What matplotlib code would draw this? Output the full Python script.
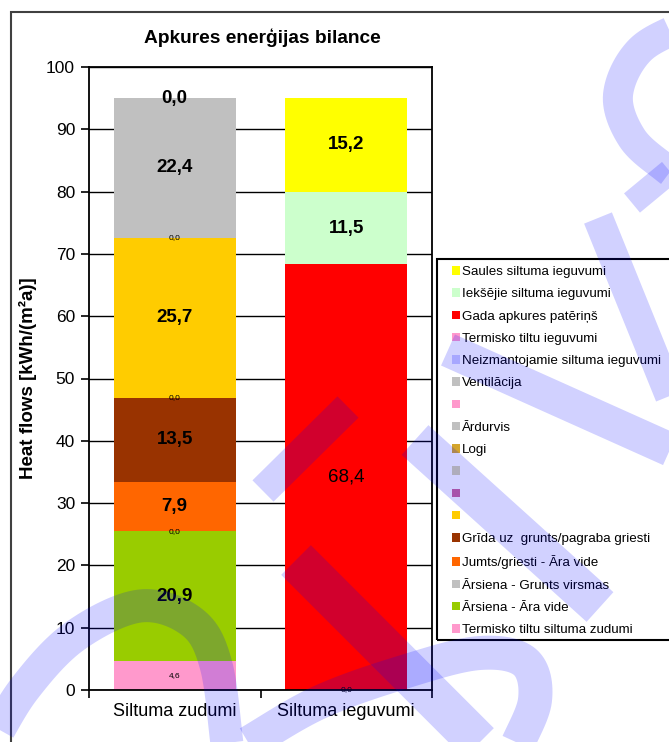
import numpy as np
import matplotlib
matplotlib.use("Agg")
import matplotlib.pyplot as plt
from matplotlib.patches import Patch, Rectangle

plt.rcParams['font.family'] = ['Liberation Sans', 'DejaVu Sans']

# ── Series, in the order they are listed in the legend (top to bottom) ──
names = [
    "Saules siltuma ieguvumi",
    "Iekšējie siltuma ieguvumi",
    "Gada apkures patēriņš",
    "Termisko tiltu ieguvumi",
    "Neizmantojamie siltuma ieguvumi",
    "Ventilācija",
    "",
    "Ārdurvis",
    "Logi",
    "",
    "",
    "",
    "Grīda uz  grunts/pagraba griesti",
    "Jumts/griesti - Āra vide",
    "Ārsiena - Grunts virsmas",
    "Ārsiena - Āra vide",
    "Termisko tiltu siltuma zudumi",
]
colors = [
    "#FFFF00", "#CCFFCC", "#FF0000", "#FF99CC", "#CCCCFF", "#C0C0C0",
    "#FF99CC", "#C0C0C0", "#D4A52C", "#D6D4AE", "#CC6699", "#FFCC00",
    "#993300", "#FF6600", "#C0C0C0", "#99CC00", "#FF99CC",
]
nan = np.nan
# values for the two columns (kWh/(m²a)); nan = series not in that column
losses = [nan, nan, nan, nan, 0.0, 22.4, nan, 0.0, nan, nan, 0.0, 25.7,
          13.5, 7.9, 0.0, 20.9, 4.6]
gains = [15.2, 11.5, 68.4, 0.0, nan, nan, nan, nan, nan, nan, nan, nan,
         nan, nan, nan, nan, nan]
categories = ["Siltuma zudumi", "Siltuma ieguvumi"]

# stacking order, bottom to top
stack_order = [16, 15, 14, 13, 12, 10, 11, 9, 8, 7, 6, 5, 4, 3, 2, 1, 0]
small_labels = {3, 7, 10, 14, 16}
plain_labels = {2}


def smooth(pts, n=16):
    """Catmull-Rom curve through the given points."""
    p = np.array(pts, float)
    p = np.vstack([2 * p[0] - p[1], p, 2 * p[-1] - p[-2]])
    t = np.linspace(0, 1, n, endpoint=False)[:, None]
    out = []
    for i in range(1, len(p) - 2):
        p0, p1, p2, p3 = p[i - 1], p[i], p[i + 1], p[i + 2]
        out.append(0.5 * (2 * p1 + (-p0 + p2) * t
                          + (2 * p0 - 5 * p1 + 4 * p2 - p3) * t ** 2
                          + (-p0 + 3 * p1 - 3 * p2 + p3) * t ** 3))
    out.append(p[-2][None])
    return np.vstack(out)


fig = plt.figure(figsize=(6.69, 7.42), dpi=100)
ax = fig.add_axes([89 / 669, 52 / 742, 343 / 669, 623 / 742])

x = np.arange(len(categories))
bottoms = np.zeros(len(categories))
for i in stack_order:
    vals = np.array([losses[i], gains[i]])
    for j in range(len(categories)):
        v = vals[j]
        if np.isnan(v):
            continue
        ax.bar(x[j], v, width=0.71, bottom=bottoms[j], color=colors[i],
               linewidth=0, zorder=2)
        txt = f"{v:.1f}".replace(".", ",")
        if i in small_labels:
            ax.text(x[j], bottoms[j] + v / 2, txt, ha='center', va='center',
                    fontsize=6, zorder=5)
        else:
            ax.text(x[j], bottoms[j] + v / 2, txt, ha='center', va='center',
                    fontsize=13.5,
                    fontweight='normal' if i in plain_labels else 'bold',
                    zorder=5)
        bottoms[j] += v

ax.set_xlim(-0.5, 1.5)
ax.set_ylim(0, 100)
ax.set_yticks(np.arange(0, 101, 10))
ax.yaxis.grid(True, color='black', linewidth=1.0, zorder=1)
ax.set_axisbelow(True)
ax.tick_params(axis='y', labelsize=12.5, length=6, width=1.2, pad=4)
ax.set_xticks(x)
ax.set_xticklabels(categories, fontsize=13)
ax.set_xticks([-0.5, 0.5, 1.5], minor=True)
ax.tick_params(axis='x', which='major', length=0, pad=9)
ax.tick_params(axis='x', which='minor', length=6, width=1.2)
for s in ax.spines.values():
    s.set_linewidth(1.3)
ax.set_ylabel("Heat flows [kWh/(m²a)]", fontsize=13.5, fontweight='bold')
ax.yaxis.set_label_coords(-0.151, 0.5)

fig.text(262 / 669, 1 - 38 / 742, "Apkures enerģijas bilance",
         ha='center', va='center', fontsize=13.8, fontweight='bold')

# outer chart frame (runs past the right and bottom edges)
fig.patches.append(Rectangle((11 / 669, -0.2), 1.2, 1.2 - 12 / 742,
                             transform=fig.transFigure, fill=False,
                             edgecolor='#404040', linewidth=1.5))

# legend frame and entries
fig.patches.append(Rectangle((437 / 669, 1 - 640 / 742), 0.5, 381 / 742,
                             transform=fig.transFigure, fill=False,
                             edgecolor='black', linewidth=1.5))
handles = [Patch(facecolor=c, edgecolor='none') for c in colors]
fig.legend(handles, names, loc='upper left',
           bbox_to_anchor=(452 / 669, 1 - 266 / 742), frameon=False,
           borderpad=0, borderaxespad=0, handlelength=0.6,
           handleheight=0.6, handletextpad=0.15, labelspacing=0.77,
           fontsize=9.6)

# translucent blue watermark strokes, in pixel coordinates of the page
wm = fig.add_axes([0, 0, 1, 1], zorder=10)
wm.set_xlim(0, 669)
wm.set_ylim(742, 0)
wm.axis('off')
strokes = [
    (np.array([(263, 491), (348, 407)]), 30),
    (np.array([(296, 560), (407, 671), (490, 754)]), 42),
    (smooth([(-10, 745), (25, 688), (75, 636), (140, 606), (192, 622),
             (216, 665), (228, 752)]), 33),
    (smooth([(240, 748), (320, 702), (410, 670), (480, 653), (525, 662),
             (535, 700), (515, 750)]), 34),
    (np.array([(448, 350), (700, 463)]), 34),
    (np.array([(415, 440), (600, 607)]), 40),
    (np.array([(598, 218), (700, 470)]), 30),
    (smooth([(690, 22), (640, 50), (618, 95), (632, 138), (665, 168),
             (690, 185)]), 30),
    (np.array([(632, 203), (690, 155)]), 25),
]
for pts, w in strokes:
    wm.plot(pts[:, 0], pts[:, 1], color='#0000FF', alpha=0.18,
            linewidth=w * 0.72, solid_capstyle='butt',
            solid_joinstyle='round')

fig.savefig("out.png", dpi=100)
